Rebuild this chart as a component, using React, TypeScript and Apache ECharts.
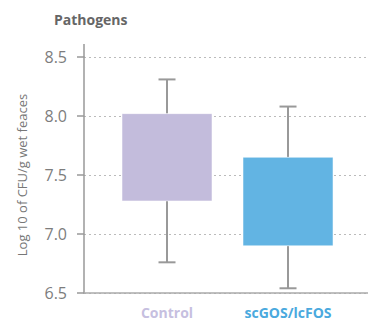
import React, { useEffect, useRef } from "react";
import * as echarts from "echarts";

const categories = ["Control", "scGOS/lcFOS"];
const lowerWhisker = [6.76, 6.54];
const q1 = [7.28, 6.9];
const q3 = [8.02, 7.65];
const upperWhisker = [8.31, 8.08];
const yTicks = [6.5, 7.0, 7.5, 8.0, 8.5];

const boxColors = ["#c3bcdc", "#62b4e3"];
const labelColors = ["#c6bfe0", "#4aa9de"];

export default function App() {
  const ref = useRef<HTMLDivElement>(null);
  useEffect(() => {
    if (!ref.current) return;
    const chart = echarts.init(ref.current, null, { renderer: "svg" });
    const data = categories.map((_, i) => [i, q1[i], q3[i], lowerWhisker[i], upperWhisker[i]]);
    const option: any = {
      animation: false,
      textStyle: { fontFamily: "Open Sans" },
      title: {
        text: "Pathogens",
        left: 49,
        top: 7,
        textStyle: { fontSize: 14, fontWeight: "bold", color: "#666", fontFamily: "Open Sans" },
      },
      graphic: [
        {
          type: "line",
          shape: { x1: 84, y1: 44, x2: 84, y2: 57 },
          style: { stroke: "#999", lineWidth: 1.5 },
        },
      ],
      grid: { left: 84, right: 0, top: 57, bottom: 27, containLabel: false },
      xAxis: {
        type: "value",
        min: -0.686,
        max: 1.661,
        splitLine: { show: false },
        axisTick: { show: false },
        axisLine: { show: true, onZero: false, lineStyle: { color: "#aaa", width: 1.5 } },
        axisLabel: {
          customValues: [0, 1],
          margin: 12,
          formatter: (v: number) => {
            const i = Math.round(v);
            return `{c${i}|${categories[i]}}`;
          },
          rich: {
            c0: { color: labelColors[0], fontSize: 14, fontWeight: "bold", fontFamily: "Open Sans" },
            c1: { color: labelColors[1], fontSize: 14, fontWeight: "bold", fontFamily: "Open Sans" },
          },
        },
      },
      yAxis: {
        type: "value",
        min: yTicks[0],
        max: yTicks[yTicks.length - 1],
        interval: 0.5,
        name: "Log 10 of CFU/g wet feaces",
        nameLocation: "middle",
        nameGap: 56,
        nameTextStyle: { fontSize: 13, color: "#777", fontFamily: "Open Sans" },
        axisLine: { show: true, onZero: false, lineStyle: { color: "#999", width: 1.5 } },
        axisTick: { show: true, length: 7, lineStyle: { color: "#999", width: 1.5 } },
        axisLabel: {
          margin: 17,
          fontSize: 16,
          color: "#7d7d7d",
          fontFamily: "Open Sans",
          formatter: (v: number) => v.toFixed(1),
        },
        splitLine: { show: true, lineStyle: { color: "#bbb", type: [2, 3], width: 1 } },
      },
      series: [
        {
          type: "custom",
          encode: { x: 0, y: [1, 2, 3, 4] },
          data,
          z: 5,
          renderItem: (params: any, api: any) => {
            const x = api.value(0);
            const i = params.dataIndex;
            const pQ1 = api.coord([x, api.value(1)]);
            const pQ3 = api.coord([x, api.value(2)]);
            const pLow = api.coord([x, api.value(3)]);
            const pHigh = api.coord([x, api.value(4)]);
            const halfBox = 45;
            const halfCap = 8.5;
            const cx = pQ1[0];
            const wStyle = { stroke: "#999", lineWidth: 2 };
            return {
              type: "group",
              children: [
                { type: "line", shape: { x1: cx, y1: pHigh[1], x2: cx, y2: pQ3[1] }, style: wStyle },
                { type: "line", shape: { x1: cx - halfCap, y1: pHigh[1], x2: cx + halfCap, y2: pHigh[1] }, style: wStyle },
                { type: "line", shape: { x1: cx, y1: pQ1[1], x2: cx, y2: pLow[1] }, style: wStyle },
                { type: "line", shape: { x1: cx - halfCap, y1: pLow[1], x2: cx + halfCap, y2: pLow[1] }, style: wStyle },
                {
                  type: "rect",
                  shape: { x: cx - halfBox, y: pQ3[1], width: halfBox * 2, height: pQ1[1] - pQ3[1] },
                  style: { fill: boxColors[i], stroke: "rgba(255,255,255,0.5)", lineWidth: 1 },
                },
              ],
            };
          },
        },
      ],
    };
    chart.setOption(option);
    return () => chart.dispose();
  }, []);
  return (
    <div
      ref={ref}
      style={{ position: "fixed", left: 0, top: 0, width: 368, height: 320, background: "#fff" }}
    />
  );
}
